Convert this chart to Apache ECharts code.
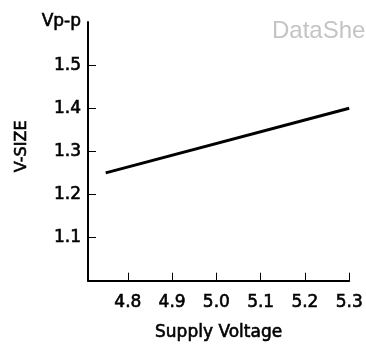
<!DOCTYPE html>
<html>
<head>
<meta charset="utf-8">
<script src="https://cdn.jsdelivr.net/npm/echarts@6/dist/echarts.min.js"></script>
<style>
  html, body { margin: 0; padding: 0; background: #fff; }
  #chart { width: 366px; height: 346px; }
</style>
</head>
<body>
<div id="chart"></div>
<script>
// V-SIZE vs supply voltage
const supplyVoltage = [4.75, 5.3]
const vSize = [1.25, 1.40]
const xTicks = [4.8, 4.9, 5.0, 5.1, 5.2, 5.3]
const yTicks = [1.1, 1.2, 1.3, 1.4, 1.5]
const yUnit = 'Vp-p'
const watermark = 'DataSheet4U.com'

const font = 'DejaVu Sans'
// slight stroke so text looks as heavy as the scan
const ink = { color: '#000', fontFamily: font, textBorderColor: '#000', textBorderWidth: 0.6 }
const chart = echarts.init(document.getElementById('chart'))

chart.setOption({
  animation: false,
  grid: { left: 88, right: 15, top: 22, bottom: 60 },
  graphic: [{
    type: 'text',
    left: 272,
    top: 19,
    silent: true,
    style: {
      text: watermark,
      fill: '#c4c4c4',
      font: '24px "Liberation Sans"'
    }
  }],
  xAxis: {
    type: 'value',
    min: 4.71,
    max: 5.3,
    name: 'Supply Voltage',
    nameLocation: 'middle',
    nameGap: 43,
    nameTextStyle: Object.assign({ fontSize: 17 }, ink),
    splitLine: { show: false },
    axisLine: { lineStyle: { color: '#000', width: 2 } },
    axisTick: {
      inside: true,
      length: 8,
      customValues: xTicks,
      lineStyle: { color: '#000', width: 1 }
    },
    axisLabel: Object.assign({
      customValues: xTicks,
      margin: 13,
      fontSize: 17,
      formatter: v => v.toFixed(1)
    }, ink)
  },
  yAxis: {
    type: 'value',
    min: 1.0,
    max: 1.6,
    name: 'V-SIZE',
    nameLocation: 'middle',
    nameGap: 56,
    nameTextStyle: Object.assign({ fontSize: 16, padding: [0, 0, 0, 10] }, ink),
    splitLine: { show: false },
    axisLine: { lineStyle: { color: '#000', width: 2 } },
    axisTick: {
      inside: true,
      length: 8,
      customValues: yTicks,
      lineStyle: { color: '#000', width: 1 }
    },
    axisLabel: Object.assign({
      customValues: yTicks.concat([1.6]),
      margin: 7,
      fontSize: 17,
      formatter: v => Math.abs(v - 1.6) < 1e-6 ? yUnit : v.toFixed(1)
    }, ink)
  },
  series: [{
    type: 'line',
    data: supplyVoltage.map((x, i) => [x, vSize[i]]),
    showSymbol: false,
    lineStyle: { color: '#000', width: 3 }
  }]
})
</script>
</body>
</html>
